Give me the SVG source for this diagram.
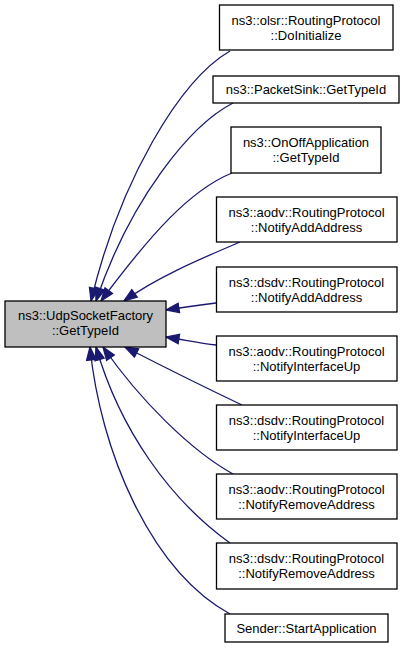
<svg xmlns="http://www.w3.org/2000/svg" width="405" height="648" viewBox="0 0 405 648">
<style>
  .box { fill: #ffffff; stroke: #000000; stroke-width: 1.3; }
  .main { fill: #bfbfbf; stroke: #000000; stroke-width: 1.3; }
  .t { font-family: "Liberation Sans", Arial, sans-serif; font-size: 13px; fill: #000000; text-anchor: middle; }
  .e { fill: none; stroke: #191970; stroke-width: 1.3; marker-end: url(#ah); }
</style>
<defs>
  <marker id="ah" markerUnits="userSpaceOnUse" markerWidth="16" markerHeight="12" viewBox="-1 -6 16 12" refX="13" refY="0" orient="auto">
    <path d="M0,-4.7 L13,0 L0,4.7 Z" fill="#191970" stroke="#191970" stroke-width="1.3"/>
  </marker>
</defs>
<rect width="405" height="648" fill="#ffffff"/>
<g id="connectors">
  <path class="e" d="M230,51 C180,80 120,180 91,301"/>
  <path class="e" d="M233,103 C190,125 130,200 96,301"/>
  <path class="e" d="M232,173 C190,190 150,235 101,301"/>
  <path class="e" d="M240,242 C210,255 160,275 124,301"/>
  <path class="e" d="M216,303 C200,305 185,307 166,310"/>
  <path class="e" d="M216,345 C200,343 185,340 166,337"/>
  <path class="e" d="M242,405 C200,385 160,365 125,347"/>
  <path class="e" d="M233,474 C190,450 140,400 103,347"/>
  <path class="e" d="M230,543 C170,500 120,430 96,347"/>
  <path class="e" d="M230,614 C150,570 100,450 90,347"/>
</g>
<g id="main">
  <rect class="main" x="5" y="301" width="161" height="46"/>
  <text class="t" x="85.5" y="320">ns3::UdpSocketFactory</text>
  <text class="t" x="85.5" y="335">::GetTypeId</text>
</g>
<g id="n1">
  <rect class="box" x="219.5" y="5" width="173.5" height="45"/>
  <text class="t" x="306" y="24.5">ns3::olsr::RoutingProtocol</text>
  <text class="t" x="306" y="39.5">::DoInitialize</text>
</g>
<g id="n2">
  <rect class="box" x="213" y="76" width="186" height="27"/>
  <text class="t" x="306" y="94">ns3::PacketSink::GetTypeId</text>
</g>
<g id="n3">
  <rect class="box" x="231" y="127" width="150" height="46"/>
  <text class="t" x="306" y="146.5">ns3::OnOffApplication</text>
  <text class="t" x="306" y="161.5">::GetTypeId</text>
</g>
<g id="n4">
  <rect class="box" x="216.5" y="197" width="180.5" height="45"/>
  <text class="t" x="306.5" y="216.5">ns3::aodv::RoutingProtocol</text>
  <text class="t" x="306.5" y="231.5">::NotifyAddAddress</text>
</g>
<g id="n5">
  <rect class="box" x="216.5" y="267" width="180.5" height="45"/>
  <text class="t" x="306.5" y="286.5">ns3::dsdv::RoutingProtocol</text>
  <text class="t" x="306.5" y="301.5">::NotifyAddAddress</text>
</g>
<g id="n6">
  <rect class="box" x="216.5" y="336" width="180.5" height="45"/>
  <text class="t" x="306.5" y="355.5">ns3::aodv::RoutingProtocol</text>
  <text class="t" x="306.5" y="370.5">::NotifyInterfaceUp</text>
</g>
<g id="n7">
  <rect class="box" x="216.5" y="405" width="180.5" height="45"/>
  <text class="t" x="306.5" y="424.5">ns3::dsdv::RoutingProtocol</text>
  <text class="t" x="306.5" y="439.5">::NotifyInterfaceUp</text>
</g>
<g id="n8">
  <rect class="box" x="216.5" y="474" width="180.5" height="45"/>
  <text class="t" x="306.5" y="493.5">ns3::aodv::RoutingProtocol</text>
  <text class="t" x="306.5" y="508.5">::NotifyRemoveAddress</text>
</g>
<g id="n9">
  <rect class="box" x="216.5" y="543" width="180.5" height="46"/>
  <text class="t" x="306.5" y="562.5">ns3::dsdv::RoutingProtocol</text>
  <text class="t" x="306.5" y="577.5">::NotifyRemoveAddress</text>
</g>
<g id="n10">
  <rect class="box" x="225" y="614" width="163" height="28"/>
  <text class="t" x="306.5" y="632.5">Sender::StartApplication</text>
</g>
</svg>
